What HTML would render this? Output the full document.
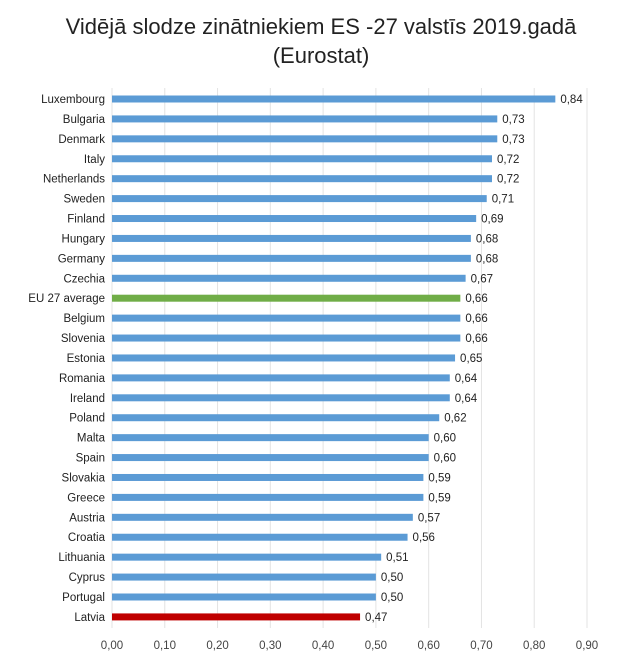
<!DOCTYPE html>
<html><head><meta charset="utf-8"><style>
body{margin:0;background:#fff;width:619px;height:666px;overflow:hidden;font-family:"Liberation Sans",sans-serif}
</style></head><body>
<svg id="chart" width="619" height="666" xmlns="http://www.w3.org/2000/svg">
<text x="321" y="34" text-anchor="middle" font-size="22" fill="#222">Vidējā slodze zinātniekiem ES -27 valstīs 2019.gadā</text>
<text x="321" y="63" text-anchor="middle" font-size="22" fill="#222">(Eurostat)</text>
<g id="grid"></g><g id="bars"></g>
</svg>
<script>
const categories=["Luxembourg","Bulgaria","Denmark","Italy","Netherlands","Sweden","Finland","Hungary","Germany","Czechia","EU 27 average","Belgium","Slovenia","Estonia","Romania","Ireland","Poland","Malta","Spain","Slovakia","Greece","Austria","Croatia","Lithuania","Cyprus","Portugal","Latvia"];
const values=[0.84,0.73,0.73,0.72,0.72,0.71,0.69,0.68,0.68,0.67,0.66,0.66,0.66,0.65,0.64,0.64,0.62,0.60,0.60,0.59,0.59,0.57,0.56,0.51,0.50,0.50,0.47];
const ticks=[0,0.1,0.2,0.3,0.4,0.5,0.6,0.7,0.8,0.9];
const tickLabels=["0,00","0,10","0,20","0,30","0,40","0,50","0,60","0,70","0,80","0,90"];
const NS="http://www.w3.org/2000/svg";
const x0=112,x1=587,vmax=0.9,yTop=99,yStep=19.92;
const xs=v=>x0+(x1-x0)*v/vmax;
const ys=i=>yTop+i*yStep;
const grid=document.getElementById('grid'),bars=document.getElementById('bars');
function mk(t,a,p){const e=document.createElementNS(NS,t);for(const k in a)e.setAttribute(k,a[k]);p.appendChild(e);return e;}
ticks.forEach((t,i)=>{
 const l=mk('line',{x1:xs(t),x2:xs(t),y1:88,y2:628,stroke:'#e3e3e3','stroke-width':1},grid);
 
 
 const tx=mk('text',{x:xs(t),y:649,'text-anchor':'middle','font-size':11.5,fill:'#444'},grid);
 tx.textContent=tickLabels[i];
 
 
});
categories.forEach((c,i)=>{
 const y=ys(i);
 const lab=mk('text',{x:105,y:y+4,'text-anchor':'end','font-size':11.5,fill:'#222'},bars);
 lab.textContent=c;
 
 
 const col=c==="Latvia"?'#c00000':(c==="EU 27 average"?'#70ad47':'#5b9bd5');
 const r=mk('rect',{x:x0,y:y-3.5,width:xs(values[i])-x0,height:7,fill:col},bars);
 
 
 const v=mk('text',{x:xs(values[i])+5,y:y+4,'font-size':11.5,fill:'#222'},bars);
 v.textContent=values[i].toFixed(2).replace('.',',');
 
 
});
</script>
</body></html>
